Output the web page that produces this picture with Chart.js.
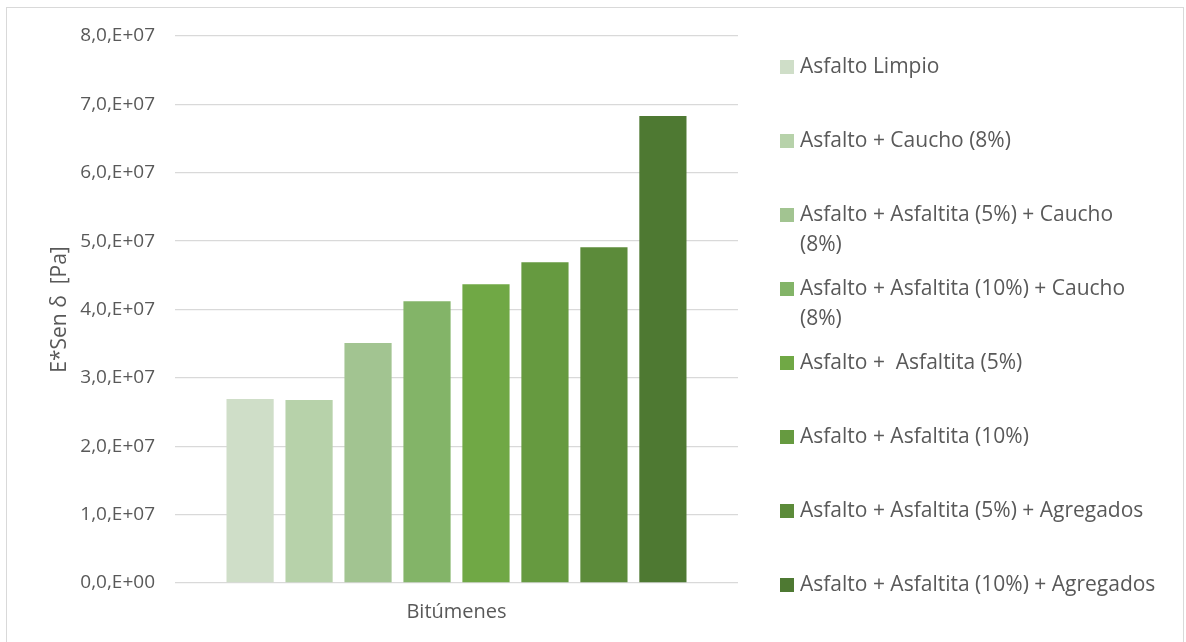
<!DOCTYPE html>
<html>
<head>
<meta charset="utf-8">
<script src="https://cdn.jsdelivr.net/npm/chart.js@4.4.1/dist/chart.umd.min.js"></script>
<style>
  body { margin: 0; background: #fff; }
  #wrap { position: relative; width: 1186px; height: 642px; }
  #frame { position: absolute; left: 6px; top: 7px; width: 1178px; height: 640px; border: 1px solid #d9d9d9; box-sizing: border-box; pointer-events: none; }
</style>
</head>
<body>
<div id="wrap">
  <canvas id="barChart" width="1186" height="642"></canvas>
  <div id="frame"></div>
</div>
<script>
const categories = ['Bitúmenes'];

const seriesNames = [
  'Asfalto Limpio',
  'Asfalto + Caucho (8%)',
  'Asfalto + Asfaltita (5%) + Caucho (8%)',
  'Asfalto + Asfaltita (10%) + Caucho (8%)',
  'Asfalto +  Asfaltita (5%)',
  'Asfalto + Asfaltita (10%)',
  'Asfalto + Asfaltita (5%) + Agregados',
  'Asfalto + Asfaltita (10%) + Agregados'
];

const seriesValues = [2.69e7, 2.675e7, 3.51e7, 4.12e7, 4.37e7, 4.69e7, 4.91e7, 6.83e7];

const yTickLabels = ['0,0,E+00', '1,0,E+07', '2,0,E+07', '3,0,E+07', '4,0,E+07',
  '5,0,E+07', '6,0,E+07', '7,0,E+07', '8,0,E+07'];

const seriesColors = ['#cfdec8', '#b7d2aa', '#a2c491', '#83b468', '#70a845', '#669a40', '#5c8b3a', '#4e7932'];

const FONT = "'Open Sans', sans-serif";
const GREY = '#595959';

// break a label into lines that fit within maxWidth
function wrapLines(ctx, text, maxWidth) {
  const words = text.split(' ');
  const lines = [];
  let line = '';
  words.forEach(w => {
    const test = line === '' ? w : line + ' ' + w;
    if (line !== '' && w !== '' && ctx.measureText(test).width > maxWidth) {
      lines.push(line);
      line = w;
    } else {
      line = test;
    }
  });
  lines.push(line);
  return lines;
}

// legend on the right, one row per dataset, evenly spaced
const sideLegend = {
  id: 'sideLegend',
  afterDraw(chart, args, opts) {
    const ctx = chart.ctx;
    ctx.save();
    ctx.font = opts.fontSize + 'px ' + FONT;
    ctx.textBaseline = 'middle';
    ctx.textAlign = 'left';
    chart.data.datasets.forEach((ds, i) => {
      const y = opts.top + i * opts.step;
      ctx.fillStyle = ds.backgroundColor;
      ctx.fillRect(opts.x, y - 7, 14, 14);
      ctx.fillStyle = GREY;
      wrapLines(ctx, ds.label, opts.maxWidth).forEach((line, j) => {
        ctx.fillText(line, opts.x + 20, y + j * opts.lineHeight);
      });
    });
    ctx.restore();
  }
};

new Chart(document.getElementById('barChart').getContext('2d'), {
  type: 'bar',
  data: {
    labels: categories,
    datasets: seriesNames.map((name, i) => ({
      label: name,
      data: [seriesValues[i]],
      backgroundColor: seriesColors[i],
      borderWidth: 0,
      categoryPercentage: 0.838,
      barPercentage: 0.8
    }))
  },
  options: {
    responsive: false,
    animation: false,
    layout: {
      padding: { left: 0, top: 36, right: 448, bottom: 0 }
    },
    plugins: {
      legend: { display: false },
      tooltip: { enabled: false },
      sideLegend: { x: 780, top: 67, step: 74, lineHeight: 30, fontSize: 21, maxWidth: 358 }
    },
    scales: {
      x: {
        grid: { display: false, drawTicks: false },
        border: { display: false },
        ticks: { color: GREY, padding: 17, font: { family: FONT, size: 20 } },
        afterFit: scale => { scale.height = 59; }
      },
      y: {
        min: 0,
        max: 8e7,
        grid: { color: '#d9d9d9', lineWidth: 1.3, drawTicks: false },
        border: { display: false },
        ticks: {
          stepSize: 1e7,
          padding: 20,
          color: GREY,
          font: { family: FONT, size: 19 },
          callback: (value, index) => yTickLabels[index]
        },
        title: {
          display: true,
          text: 'E*Sen δ  [Pa]',
          color: GREY,
          font: { family: FONT, size: 21 },
          padding: { top: 47, bottom: 0 }
        },
        afterFit: scale => { scale.width = 175; }
      }
    }
  },
  plugins: [sideLegend]
});
</script>
</body>
</html>
